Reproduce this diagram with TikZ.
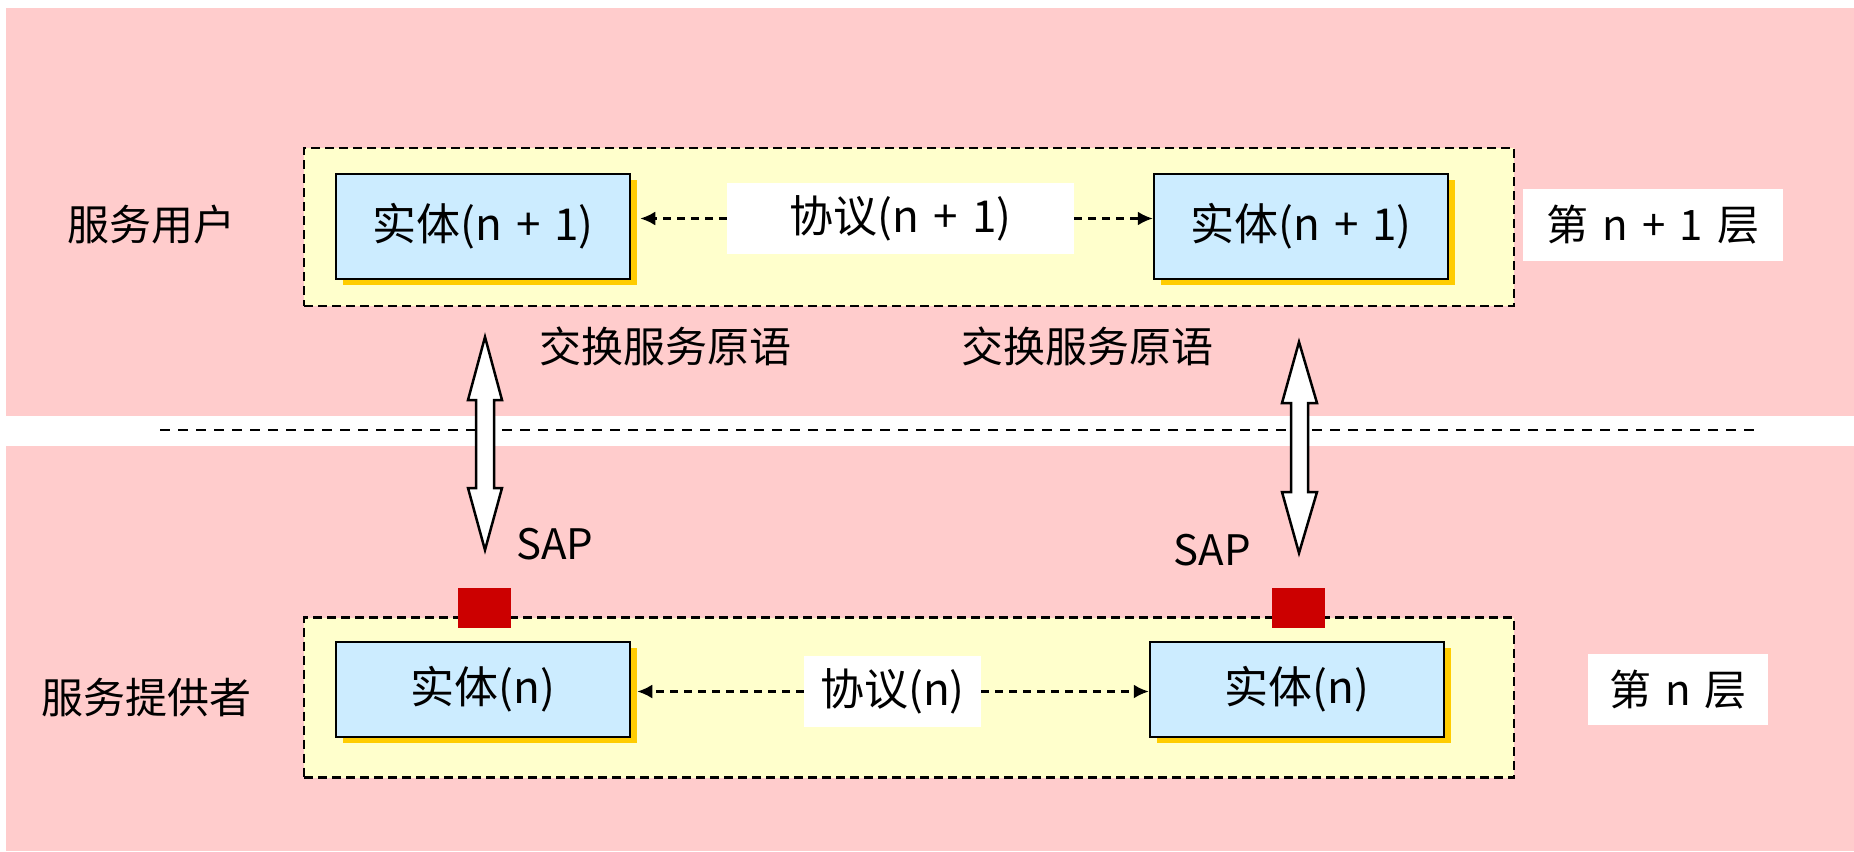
\documentclass[tikz,border=0pt]{standalone}
\usepackage{fontspec}
\setmainfont{Noto Sans CJK SC}
\usetikzlibrary{arrows.meta,shadows}
\definecolor{bandpink}{RGB}{255,204,204}
\definecolor{boxyellow}{RGB}{255,255,204}
\definecolor{entblue}{RGB}{204,236,255}
\definecolor{shadowY}{RGB}{255,204,0}
\definecolor{sapred}{RGB}{204,0,0}
\newcommand{\mygap}{\hspace{0.32em}}
\tikzset{
  band/.style={fill=bandpink,draw=none},
  layerbox/.style={draw=black,fill=boxyellow,line width=2.2pt,dash pattern=on 9pt off 5pt,minimum width=1210pt,inner sep=0pt},
  entity/.style={draw=black,fill=entblue,line width=2.5pt,minimum width=294pt,inner sep=0pt,
    general shadow={shadow xshift=7pt,shadow yshift=-6pt,fill=shadowY},font=\fontsize{44}{52}\selectfont},
  whitelbl/.style={fill=white,draw=none,inner sep=0pt,font=\fontsize{44}{52}\selectfont},
  layerlbl/.style={fill=white,draw=none,inner sep=0pt,font=\fontsize{42}{50}\selectfont},
  plain/.style={inner sep=0pt,font=\fontsize{42}{50}\selectfont},
  darr/.style={line width=2.4pt,dash pattern=on 8pt off 6pt,-{Latex[length=15pt,width=14pt]}},
  sep/.style={line width=2.2pt,dash pattern=on 10pt off 8pt},
  sap/.style={fill=sapred,draw=none,minimum width=53pt,minimum height=40pt,inner sep=0pt},
  blockarrow/.style={fill=white,draw=black,line width=2.5pt,line join=miter}
}
\begin{document}
\begin{tikzpicture}[x=1pt,y=-1pt]
\useasboundingbox (0,0) rectangle (1854,851);
% bands
\fill[band] (6,8) rectangle (1854,416);
\fill[band] (6,446) rectangle (1854,851);
% separator
\coordinate (sepL) at (160,430);
\coordinate (sepR) at (1758,430);
\draw[sep] (sepL) -- (sepR);
% layer boxes
\node[layerbox,minimum height=158pt] (topbox) at (909,227) {};
\node[layerbox,minimum height=160pt] (botbox) at (909,697.5) {};
% SAP squares
\node[sap] (sapL) at (484.5,608) {};
\node[sap] (sapR) at (1298.5,608) {};
% entities
\node[entity,minimum height=105pt] (e1) at (483,226.5) {实体(n\mygap+\mygap1)};
\node[entity,minimum height=105pt] (e2) at (1301,226.5) {实体(n\mygap+\mygap1)};
\node[entity,minimum height=95pt] (e3) at (483,689.5) {实体(n)};
\node[entity,minimum height=95pt] (e4) at (1297,689.5) {实体(n)};
% protocol labels
\node[whitelbl,minimum width=347pt,minimum height=71pt] (p1) at (900.5,218.5) {协议(n\mygap+\mygap1)};
\node[whitelbl,minimum width=177pt,minimum height=71pt] (p2) at (892.5,691.5) {协议(n)};
% arrow tip points at the shadows
\coordinate (e1tip) at ([xshift=9pt]e1.east);
\coordinate (e3tip) at ([xshift=6pt]e3.east);
% protocol arrows
\draw[darr] (p1.west) -- (p1.west -| e1tip);
\draw[darr] (p1.east) -- (p1.east -| e2.west);
\draw[darr] (p2.west) -- (p2.west -| e3tip);
\draw[darr] (p2.east) -- (p2.east -| e4.west);
% layer labels
\node[layerlbl,minimum width=260pt,minimum height=72pt] (l1) at (1653,225) {第\hspace{14pt}n\hspace{14pt}+\hspace{14pt}1\hspace{14pt}层};
\node[layerlbl,minimum width=180pt,minimum height=71pt] (l2) at (1678,689.5) {第\hspace{14pt}n\hspace{14pt}层};
% side labels
\node[plain] (su) at (151,225) {服务用户};
\node[plain] (sp) at (146,698) {服务提供者};
\node[plain] (x1) at (665,346) {交换服务原语};
\node[plain] (x2) at (1087,346) {交换服务原语};
\node[plain] (s1) at (555,544) {SAP};
\node[plain] (s2) at (1212,550) {SAP};
% block double arrows
\draw[blockarrow] (485,337) -- (502,400) -- (494,400) -- (494,488) -- (502,488) -- (485,550)
  -- (468,488) -- (476,488) -- (476,400) -- (468,400) -- cycle;
\draw[blockarrow] (1299,342) -- (1317,403) -- (1308,403) -- (1308,492) -- (1317,492) -- (1299,553)
  -- (1282,492) -- (1291,492) -- (1291,403) -- (1282,403) -- cycle;
\end{tikzpicture}
\end{document}
